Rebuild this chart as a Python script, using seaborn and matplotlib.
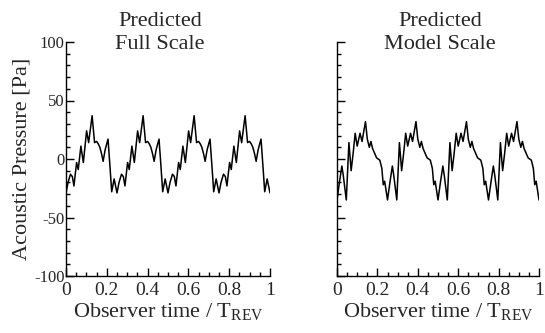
import matplotlib
matplotlib.use("Agg")
import matplotlib.pyplot as plt
from matplotlib.ticker import MultipleLocator, FixedLocator
import seaborn as sns
import pandas as pd

# Observer time (fraction of one rotor revolution) and acoustic pressure [Pa]
full_t = [
    0.000, 0.010, 0.022, 0.031, 0.039, 0.046, 0.052, 0.060, 0.073, 0.085, 0.101, 0.111,
    0.128, 0.140, 0.150, 0.158, 0.166, 0.175, 0.182, 0.192, 0.206, 0.215, 0.224, 0.236,
    0.250, 0.260, 0.272, 0.281, 0.289, 0.296, 0.302, 0.310, 0.323, 0.335, 0.351, 0.361,
    0.378, 0.390, 0.400, 0.408, 0.416, 0.425, 0.432, 0.442, 0.456, 0.465, 0.474, 0.486,
    0.500, 0.510, 0.522, 0.531, 0.539, 0.546, 0.552, 0.560, 0.573, 0.585, 0.601, 0.611,
    0.628, 0.640, 0.650, 0.658, 0.666, 0.675, 0.682, 0.692, 0.706, 0.715, 0.724, 0.736,
    0.750, 0.760, 0.772, 0.781, 0.789, 0.796, 0.802, 0.810, 0.823, 0.835, 0.851, 0.861,
    0.878, 0.890, 0.900, 0.908, 0.916, 0.925, 0.932, 0.942, 0.956, 0.965, 0.974, 0.986,
    1.000,
]
full_p = [
    -29, -20, -13, -15, -23, -12, -3, -9, 11, -3, 24, 14,
    37, 14, 15, 13, 10, 4, -2, 8, 17, -5, -28, -17,
    -29, -20, -13, -15, -23, -12, -3, -9, 11, -3, 24, 14,
    37, 14, 15, 13, 10, 4, -2, 8, 17, -5, -28, -17,
    -29, -20, -13, -15, -23, -12, -3, -9, 11, -3, 24, 14,
    37, 14, 15, 13, 10, 4, -2, 8, 17, -5, -28, -17,
    -29, -20, -13, -15, -23, -12, -3, -9, 11, -3, 24, 14,
    37, 14, 15, 13, 10, 4, -2, 8, 17, -5, -28, -17,
    -29,
]

model_t = [
    0.000, 0.012, 0.024, 0.031, 0.046, 0.059, 0.070, 0.080, 0.090, 0.100, 0.114, 0.124,
    0.141, 0.150, 0.160, 0.168, 0.176, 0.196, 0.212, 0.222, 0.229, 0.236,
    0.250, 0.262, 0.274, 0.281, 0.296, 0.309, 0.320, 0.330, 0.340, 0.350, 0.364, 0.374,
    0.391, 0.400, 0.410, 0.418, 0.426, 0.446, 0.462, 0.472, 0.479, 0.486,
    0.500, 0.512, 0.524, 0.531, 0.546, 0.559, 0.570, 0.580, 0.590, 0.600, 0.614, 0.624,
    0.641, 0.650, 0.660, 0.668, 0.676, 0.696, 0.712, 0.722, 0.729, 0.736,
    0.750, 0.762, 0.774, 0.781, 0.796, 0.809, 0.820, 0.830, 0.840, 0.850, 0.864, 0.874,
    0.891, 0.900, 0.910, 0.918, 0.926, 0.946, 0.962, 0.972, 0.979, 0.986,
    1.000,
]
model_p = [
    -35, -20, -6, -14, -35, 14, -10, 5, 22, 11, 22, 15,
    32, 17, 10, 15, 9, 1, -1, -8, -22, -19,
    -35, -20, -6, -14, -35, 14, -10, 5, 22, 11, 22, 15,
    32, 17, 10, 15, 9, 1, -1, -8, -22, -19,
    -35, -20, -6, -14, -35, 14, -10, 5, 22, 11, 22, 15,
    32, 17, 10, 15, 9, 1, -1, -8, -22, -19,
    -35, -20, -6, -14, -35, 14, -10, 5, 22, 11, 22, 15,
    32, 17, 10, 15, 9, 1, -1, -8, -22, -19,
    -35,
]

panel_titles = [("Predicted", "Full Scale"), ("Predicted", "Model Scale")]
x_ticks = [0, 0.2, 0.4, 0.6, 0.8, 1]
x_tick_labels = ["0", "0.2", "0.4", "0.6", "0.8", "1"]
y_ticks = [-100, -50, 0, 50, 100]
y_tick_labels = ["-100", "-50", "0", "50", "100"]

sns.set_theme(style="ticks")
plt.rcParams["font.family"] = ["Liberation Serif", "DejaVu Serif"]
plt.rcParams["mathtext.default"] = "regular"
plt.rcParams["axes.unicode_minus"] = False

W, H = 545, 333
fig = plt.figure(figsize=(W / 100, H / 100), dpi=100)
ax1 = fig.add_axes([66 / W, 57 / H, 204 / W, 234 / H])
ax2 = fig.add_axes([337 / W, 57 / H, 202 / W, 234 / H])

full_df = pd.DataFrame({"t": full_t, "p": full_p})
model_df = pd.DataFrame({"t": model_t, "p": model_p})

for ax, df in ((ax1, full_df), (ax2, model_df)):
    sns.lineplot(data=df, x="t", y="p", ax=ax, color="black", linewidth=1.1,
                 estimator=None, sort=False)
    ax.set_xlim(0, 1)
    ax.set_ylim(-100, 100)
    for side in ("top", "right"):
        ax.spines[side].set_visible(False)
    for side in ("left", "bottom"):
        ax.spines[side].set_linewidth(1.0)
        ax.spines[side].set_color("black")
    ax.xaxis.set_major_locator(FixedLocator(x_ticks))
    ax.xaxis.set_minor_locator(MultipleLocator(0.05))
    ax.yaxis.set_major_locator(FixedLocator(y_ticks))
    ax.yaxis.set_minor_locator(MultipleLocator(10))
    ax.tick_params(which="both", direction="in", color="black", width=1.0)
    ax.tick_params(which="major", length=6)
    ax.tick_params(which="minor", length=3)
    ax.set_xticklabels(x_tick_labels, fontsize=14)
    ax.tick_params(axis="x", pad=4)
    ax.set_xlabel("Observer time / T$_{REV}$", fontsize=16, labelpad=2)
    ax.set_ylabel("")

ax1.set_yticklabels(y_tick_labels, fontsize=12)
ax1.tick_params(axis="y", pad=1)
ax2.set_yticklabels([])
ax1.set_ylabel("Acoustic Pressure [Pa]", fontsize=16, labelpad=2)

for (line1, line2), xc in zip(panel_titles, (160, 440)):
    fig.text(xc / W, 1 - 26 / H, line1, ha="center", va="baseline", fontsize=16)
    fig.text(xc / W, 1 - 49 / H, line2, ha="center", va="baseline", fontsize=16)

fig.savefig("out.png", dpi=100)
